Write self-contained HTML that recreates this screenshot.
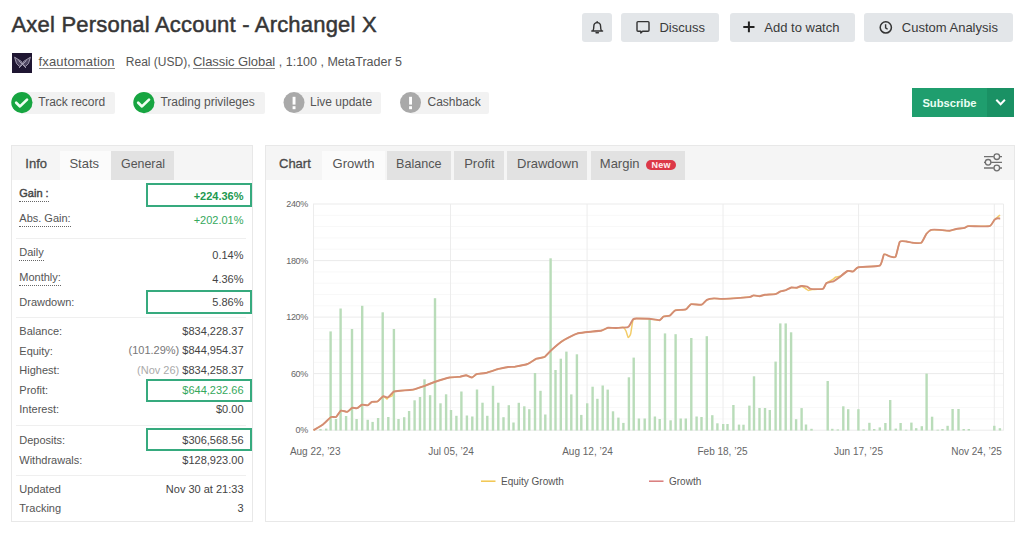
<!DOCTYPE html>
<html><head><meta charset="utf-8">
<style>
*{box-sizing:border-box;margin:0;padding:0}
html,body{width:1024px;height:533px;overflow:hidden;background:#fff;font-family:"Liberation Sans",sans-serif;color:#333}
.a{position:absolute;white-space:nowrap}
</style></head><body>
<div class="a" style="left:11.5px;top:14.00px;font-size:22px;line-height:1;color:#363636;font-weight:normal;letter-spacing:0.2px;-webkit-text-stroke:0.5px #383838">Axel Personal Account - Archangel X</div>
<div class="a" style="left:12px;top:53px;width:20px;height:20px;background:#1f1632;"></div>
<div class="a" style="left:38.5px;top:55.00px;font-size:13px;line-height:1;color:#555;font-weight:normal;letter-spacing:0.15px">fxautomation</div>
<div class="a" style="left:38.5px;top:67.5px;width:76.3px;height:1.0px;background:#888;"></div>
<div class="a" style="left:125.8px;top:56.00px;font-size:12px;line-height:1;color:#555;font-weight:normal;">Real (USD),</div>
<div class="a" style="left:193px;top:55.00px;font-size:13px;line-height:1;color:#555;font-weight:normal;letter-spacing:-0.07px">Classic Global</div>
<div class="a" style="left:193px;top:67.5px;width:82.19999999999999px;height:1.0px;background:#888;"></div>
<div class="a" style="left:278.8px;top:56.00px;font-size:12.5px;line-height:1;color:#555;font-weight:normal;">, 1:100 , MetaTrader 5</div>
<div class="a" style="left:582px;top:13px;width:30px;height:29px;background:#e3e6e9;border-radius:3px"></div>
<div class="a" style="left:621px;top:13px;width:98px;height:29px;background:#e3e6e9;border-radius:3px"></div>
<div class="a" style="left:730px;top:13px;width:125px;height:29px;background:#e3e6e9;border-radius:3px"></div>
<div class="a" style="left:864px;top:13px;width:149px;height:29px;background:#e3e6e9;border-radius:3px"></div>
<div class="a" style="left:659.4px;top:21.00px;font-size:13px;line-height:1;color:#3a3a3a;font-weight:normal;">Discuss</div>
<div class="a" style="left:764.3px;top:21.00px;font-size:13px;line-height:1;color:#3a3a3a;font-weight:normal;">Add to watch</div>
<div class="a" style="left:901.8px;top:21.00px;font-size:13px;line-height:1;color:#3a3a3a;font-weight:normal;">Custom Analysis</div>
<div class="a" style="left:21px;top:92px;width:93.7px;height:22px;background:#f2f2f2;border-radius:2px"></div>
<div class="a" style="left:38.3px;top:96.00px;font-size:12px;line-height:1;color:#555;font-weight:normal;">Track record</div>
<div class="a" style="left:143px;top:92px;width:122px;height:22px;background:#f2f2f2;border-radius:2px"></div>
<div class="a" style="left:160.4px;top:96.00px;font-size:12px;line-height:1;color:#555;font-weight:normal;">Trading privileges</div>
<div class="a" style="left:293.6px;top:92px;width:87.89999999999998px;height:22px;background:#f2f2f2;border-radius:2px"></div>
<div class="a" style="left:310px;top:96.00px;font-size:12px;line-height:1;color:#555;font-weight:normal;">Live update</div>
<div class="a" style="left:410px;top:92px;width:79px;height:22px;background:#f2f2f2;border-radius:2px"></div>
<div class="a" style="left:427.5px;top:96.00px;font-size:12px;line-height:1;color:#555;font-weight:normal;">Cashback</div>
<div class="a" style="left:912px;top:88px;width:102px;height:29px;background:#1f9e6e;"></div>
<div class="a" style="left:987px;top:88px;width:27px;height:29px;background:#1a9164;"></div>
<div class="a" style="left:922.4px;top:98.00px;font-size:11.2px;line-height:1;color:#eafff4;font-weight:bold;">Subscribe</div>
<div class="a" style="left:11px;top:145px;width:242px;height:377px;border:1px solid #e8e8e8;background:#fff"></div>
<div class="a" style="left:12px;top:146px;width:240px;height:34px;background:#f5f5f5;"></div>
<div class="a" style="left:60px;top:151px;width:51px;height:29px;background:#fbfbfb;"></div>
<div class="a" style="left:111px;top:151px;width:63px;height:29px;background:#e2e2e2;"></div>
<div class="a" style="left:25.3px;top:157.00px;font-size:13px;line-height:1;color:#4a4a4a;font-weight:normal;-webkit-text-stroke:0.3px #4a4a4a">Info</div>
<div class="a" style="left:69.4px;top:157.00px;font-size:13px;line-height:1;color:#555;font-weight:normal;">Stats</div>
<div class="a" style="left:121px;top:158.00px;font-size:12.4px;line-height:1;color:#555;font-weight:normal;">General</div>
<div class="a" style="left:265px;top:145px;width:750px;height:377px;border:1px solid #e8e8e8;background:#fff"></div>
<div class="a" style="left:266px;top:146px;width:748px;height:34px;background:#f5f5f5;"></div>
<div class="a" style="left:322px;top:151px;width:63px;height:29px;background:#fbfbfb;"></div>
<div class="a" style="left:386.6px;top:151px;width:64.39999999999998px;height:29px;background:#e2e2e2;"></div>
<div class="a" style="left:453.7px;top:151px;width:50.5px;height:29px;background:#e2e2e2;"></div>
<div class="a" style="left:507.4px;top:151px;width:80.10000000000002px;height:29px;background:#e2e2e2;"></div>
<div class="a" style="left:591px;top:151px;width:94px;height:29px;background:#e2e2e2;"></div>
<div class="a" style="left:279px;top:157.00px;font-size:13px;line-height:1;color:#4a4a4a;font-weight:normal;-webkit-text-stroke:0.3px #4a4a4a">Chart</div>
<div class="a" style="left:332.6px;top:157.00px;font-size:13px;line-height:1;color:#555;font-weight:normal;">Growth</div>
<div class="a" style="left:396px;top:158.00px;font-size:12.6px;line-height:1;color:#555;font-weight:normal;">Balance</div>
<div class="a" style="left:464.2px;top:157.00px;font-size:13px;line-height:1;color:#555;font-weight:normal;">Profit</div>
<div class="a" style="left:517px;top:157.00px;font-size:13px;line-height:1;color:#555;font-weight:normal;">Drawdown</div>
<div class="a" style="left:599.8px;top:157.00px;font-size:13px;line-height:1;color:#555;font-weight:normal;">Margin</div>
<div class="a" style="left:646.2px;top:159.8px;width:29.799999999999955px;height:10.199999999999989px;background:#dc3848;border-radius:5px"></div>
<div class="a" style="left:651.5px;top:161.00px;font-size:9px;line-height:1;color:#ffeef0;font-weight:bold;letter-spacing:0.2px">New</div>
<div class="a" style="left:19.3px;top:188.00px;font-size:11px;line-height:1;color:#444;font-weight:normal;-webkit-text-stroke:0.4px #444;border-bottom:1px dotted #666;padding-bottom:2px">Gain :</div>
<div class="a" style="right:780.5px;top:191.00px;font-size:11px;line-height:1;color:#23994f;font-weight:bold;text-align:right;">+224.36%</div>
<div class="a" style="left:19.3px;top:213.00px;font-size:11px;line-height:1;color:#555;font-weight:normal;border-bottom:1px dotted #666;padding-bottom:2px">Abs. Gain:</div>
<div class="a" style="right:780.5px;top:215.00px;font-size:11px;line-height:1;color:#35a85c;font-weight:normal;text-align:right;">+202.01%</div>
<div class="a" style="left:19.3px;top:247.00px;font-size:11px;line-height:1;color:#555;font-weight:normal;border-bottom:1px dotted #666;padding-bottom:2px">Daily</div>
<div class="a" style="right:780.5px;top:250.00px;font-size:11px;line-height:1;color:#444;font-weight:normal;text-align:right;">0.14%</div>
<div class="a" style="left:19.3px;top:272.00px;font-size:11px;line-height:1;color:#555;font-weight:normal;border-bottom:1px dotted #666;padding-bottom:2px">Monthly:</div>
<div class="a" style="right:780.5px;top:274.00px;font-size:11px;line-height:1;color:#444;font-weight:normal;text-align:right;">4.36%</div>
<div class="a" style="left:19.3px;top:297.00px;font-size:11px;line-height:1;color:#555;font-weight:normal;">Drawdown:</div>
<div class="a" style="right:780.5px;top:297.00px;font-size:11px;line-height:1;color:#444;font-weight:normal;text-align:right;">5.86%</div>
<div class="a" style="left:19.3px;top:326.00px;font-size:11px;line-height:1;color:#555;font-weight:normal;">Balance:</div>
<div class="a" style="right:780.5px;top:326.00px;font-size:11px;line-height:1;color:#444;font-weight:normal;text-align:right;">$834,228.37</div>
<div class="a" style="left:19.3px;top:346.00px;font-size:11px;line-height:1;color:#555;font-weight:normal;">Equity:</div>
<div class="a" style="right:780.5px;top:345.00px;font-size:11px;line-height:1;color:#444;font-weight:normal;text-align:right;"><span style="color:#777">(101.29%)</span> $844,954.37</div>
<div class="a" style="left:19.3px;top:365.00px;font-size:11px;line-height:1;color:#555;font-weight:normal;">Highest:</div>
<div class="a" style="right:780.5px;top:365.00px;font-size:11px;line-height:1;color:#444;font-weight:normal;text-align:right;"><span style="color:#aaa">(Nov 26)</span> $834,258.37</div>
<div class="a" style="left:19.3px;top:385.00px;font-size:11px;line-height:1;color:#555;font-weight:normal;">Profit:</div>
<div class="a" style="right:780.5px;top:385.00px;font-size:11px;line-height:1;color:#35a85c;font-weight:normal;text-align:right;">$644,232.66</div>
<div class="a" style="left:19.3px;top:404.00px;font-size:11px;line-height:1;color:#555;font-weight:normal;">Interest:</div>
<div class="a" style="right:780.5px;top:404.00px;font-size:11px;line-height:1;color:#444;font-weight:normal;text-align:right;">$0.00</div>
<div class="a" style="left:19.3px;top:435.00px;font-size:11px;line-height:1;color:#555;font-weight:normal;">Deposits:</div>
<div class="a" style="right:780.5px;top:435.00px;font-size:11px;line-height:1;color:#444;font-weight:normal;text-align:right;">$306,568.56</div>
<div class="a" style="left:19.3px;top:455.00px;font-size:11px;line-height:1;color:#555;font-weight:normal;">Withdrawals:</div>
<div class="a" style="right:780.5px;top:455.00px;font-size:11px;line-height:1;color:#444;font-weight:normal;text-align:right;">$128,923.00</div>
<div class="a" style="left:19.3px;top:484.00px;font-size:11px;line-height:1;color:#555;font-weight:normal;">Updated</div>
<div class="a" style="right:780.5px;top:484.00px;font-size:11px;line-height:1;color:#444;font-weight:normal;text-align:right;">Nov 30 at 21:33</div>
<div class="a" style="left:19.3px;top:503.00px;font-size:11px;line-height:1;color:#555;font-weight:normal;">Tracking</div>
<div class="a" style="right:780.5px;top:503.00px;font-size:11px;line-height:1;color:#444;font-weight:normal;text-align:right;">3</div>
<div class="a" style="left:16px;top:238px;width:230px;height:1px;background:#efefef;"></div>
<div class="a" style="left:16px;top:317px;width:230px;height:1px;background:#efefef;"></div>
<div class="a" style="left:16px;top:425px;width:230px;height:1px;background:#efefef;"></div>
<div class="a" style="left:16px;top:475px;width:230px;height:1px;background:#efefef;"></div>
<div class="a" style="left:146px;top:183px;width:106px;height:24px;border:2px solid #36aa7e"></div>
<div class="a" style="left:146px;top:290px;width:106px;height:24px;border:2px solid #36aa7e"></div>
<div class="a" style="left:146px;top:379px;width:106px;height:23px;border:2px solid #36aa7e"></div>
<div class="a" style="left:146px;top:428px;width:106px;height:23px;border:2px solid #36aa7e"></div>
<svg class="a" style="left:0;top:0" width="1024" height="533" viewBox="0 0 1024 533">
<line x1="313" x2="1003.5" y1="418.9" y2="418.9" stroke="#f8f8f8" stroke-width="1"/>
<line x1="313" x2="1003.5" y1="407.6" y2="407.6" stroke="#f8f8f8" stroke-width="1"/>
<line x1="313" x2="1003.5" y1="396.3" y2="396.3" stroke="#f8f8f8" stroke-width="1"/>
<line x1="313" x2="1003.5" y1="385.0" y2="385.0" stroke="#f8f8f8" stroke-width="1"/>
<line x1="313" x2="1003.5" y1="362.3" y2="362.3" stroke="#f8f8f8" stroke-width="1"/>
<line x1="313" x2="1003.5" y1="351.0" y2="351.0" stroke="#f8f8f8" stroke-width="1"/>
<line x1="313" x2="1003.5" y1="339.7" y2="339.7" stroke="#f8f8f8" stroke-width="1"/>
<line x1="313" x2="1003.5" y1="328.4" y2="328.4" stroke="#f8f8f8" stroke-width="1"/>
<line x1="313" x2="1003.5" y1="305.8" y2="305.8" stroke="#f8f8f8" stroke-width="1"/>
<line x1="313" x2="1003.5" y1="294.5" y2="294.5" stroke="#f8f8f8" stroke-width="1"/>
<line x1="313" x2="1003.5" y1="283.2" y2="283.2" stroke="#f8f8f8" stroke-width="1"/>
<line x1="313" x2="1003.5" y1="271.9" y2="271.9" stroke="#f8f8f8" stroke-width="1"/>
<line x1="313" x2="1003.5" y1="249.2" y2="249.2" stroke="#f8f8f8" stroke-width="1"/>
<line x1="313" x2="1003.5" y1="237.9" y2="237.9" stroke="#f8f8f8" stroke-width="1"/>
<line x1="313" x2="1003.5" y1="226.6" y2="226.6" stroke="#f8f8f8" stroke-width="1"/>
<line x1="313" x2="1003.5" y1="215.3" y2="215.3" stroke="#f8f8f8" stroke-width="1"/>
<line x1="313" x2="1003.5" y1="430.2" y2="430.2" stroke="#ebebeb" stroke-width="1"/>
<line x1="313" x2="1003.5" y1="373.6" y2="373.6" stroke="#ebebeb" stroke-width="1"/>
<line x1="313" x2="1003.5" y1="317.1" y2="317.1" stroke="#ebebeb" stroke-width="1"/>
<line x1="313" x2="1003.5" y1="260.6" y2="260.6" stroke="#ebebeb" stroke-width="1"/>
<line x1="313" x2="1003.5" y1="204.0" y2="204.0" stroke="#ebebeb" stroke-width="1"/>
<line x1="313.5" x2="313.5" y1="204" y2="430.5" stroke="#ececec" stroke-width="1"/>
<line x1="450.5" x2="450.5" y1="204" y2="430.5" stroke="#ececec" stroke-width="1"/>
<line x1="587.1" x2="587.1" y1="204" y2="430.5" stroke="#ececec" stroke-width="1"/>
<line x1="723" x2="723" y1="204" y2="430.5" stroke="#ececec" stroke-width="1"/>
<line x1="858.6" x2="858.6" y1="204" y2="430.5" stroke="#ececec" stroke-width="1"/>
<line x1="994.3" x2="994.3" y1="204" y2="430.5" stroke="#ececec" stroke-width="1"/>
<line x1="1003.5" x2="1003.5" y1="204" y2="430.5" stroke="#ececec" stroke-width="1"/>
<rect x="319.3" y="429.0" width="2.4" height="1.5" fill="#b9dcb9"/>
<rect x="325.0" y="428.6" width="2.4" height="1.9" fill="#b9dcb9"/>
<rect x="329.4" y="331.4" width="2.4" height="99.1" fill="#b9dcb9"/>
<rect x="334.8" y="419.0" width="2.4" height="11.5" fill="#b9dcb9"/>
<rect x="339.4" y="308.5" width="2.4" height="122.0" fill="#b9dcb9"/>
<rect x="344.9" y="416.0" width="2.4" height="14.5" fill="#b9dcb9"/>
<rect x="350.8" y="329.0" width="2.4" height="101.5" fill="#b9dcb9"/>
<rect x="355.4" y="419.0" width="2.4" height="11.5" fill="#b9dcb9"/>
<rect x="361.0" y="305.8" width="2.4" height="124.7" fill="#b9dcb9"/>
<rect x="366.5" y="419.8" width="2.4" height="10.7" fill="#b9dcb9"/>
<rect x="371.4" y="421.9" width="2.4" height="8.6" fill="#b9dcb9"/>
<rect x="376.9" y="418.0" width="2.4" height="12.5" fill="#b9dcb9"/>
<rect x="381.5" y="312.3" width="2.4" height="118.2" fill="#b9dcb9"/>
<rect x="387.1" y="417.0" width="2.4" height="13.5" fill="#b9dcb9"/>
<rect x="392.7" y="329.0" width="2.4" height="101.5" fill="#b9dcb9"/>
<rect x="397.3" y="419.0" width="2.4" height="11.5" fill="#b9dcb9"/>
<rect x="403.0" y="417.2" width="2.4" height="13.3" fill="#b9dcb9"/>
<rect x="407.9" y="411.0" width="2.4" height="19.5" fill="#b9dcb9"/>
<rect x="413.4" y="400.3" width="2.4" height="30.2" fill="#b9dcb9"/>
<rect x="418.8" y="397.0" width="2.4" height="33.5" fill="#b9dcb9"/>
<rect x="423.3" y="379.3" width="2.4" height="51.2" fill="#b9dcb9"/>
<rect x="428.9" y="395.2" width="2.4" height="35.3" fill="#b9dcb9"/>
<rect x="433.8" y="298.2" width="2.4" height="132.3" fill="#b9dcb9"/>
<rect x="439.3" y="403.3" width="2.4" height="27.2" fill="#b9dcb9"/>
<rect x="444.9" y="394.3" width="2.4" height="36.2" fill="#b9dcb9"/>
<rect x="449.8" y="410.0" width="2.4" height="20.5" fill="#b9dcb9"/>
<rect x="455.2" y="415.8" width="2.4" height="14.8" fill="#b9dcb9"/>
<rect x="460.2" y="391.5" width="2.4" height="39.0" fill="#b9dcb9"/>
<rect x="465.7" y="415.5" width="2.4" height="15.0" fill="#b9dcb9"/>
<rect x="471.1" y="416.5" width="2.4" height="14.0" fill="#b9dcb9"/>
<rect x="475.8" y="389.5" width="2.4" height="41.0" fill="#b9dcb9"/>
<rect x="481.3" y="402.7" width="2.4" height="27.8" fill="#b9dcb9"/>
<rect x="486.1" y="415.8" width="2.4" height="14.8" fill="#b9dcb9"/>
<rect x="491.8" y="385.8" width="2.4" height="44.8" fill="#b9dcb9"/>
<rect x="497.1" y="402.7" width="2.4" height="27.8" fill="#b9dcb9"/>
<rect x="502.3" y="417.2" width="2.4" height="13.2" fill="#b9dcb9"/>
<rect x="507.6" y="405.2" width="2.4" height="25.2" fill="#b9dcb9"/>
<rect x="512.3" y="422.5" width="2.4" height="8.0" fill="#b9dcb9"/>
<rect x="517.6" y="402.8" width="2.4" height="27.7" fill="#b9dcb9"/>
<rect x="523.1" y="406.3" width="2.4" height="24.2" fill="#b9dcb9"/>
<rect x="528.1" y="409.2" width="2.4" height="21.3" fill="#b9dcb9"/>
<rect x="533.8" y="373.0" width="2.4" height="57.5" fill="#b9dcb9"/>
<rect x="539.3" y="390.8" width="2.4" height="39.7" fill="#b9dcb9"/>
<rect x="544.1" y="414.5" width="2.4" height="16.0" fill="#b9dcb9"/>
<rect x="549.4" y="258.3" width="2.4" height="172.2" fill="#b9dcb9"/>
<rect x="554.3" y="370.0" width="2.4" height="60.5" fill="#b9dcb9"/>
<rect x="559.6" y="358.7" width="2.4" height="71.8" fill="#b9dcb9"/>
<rect x="565.2" y="351.6" width="2.4" height="78.9" fill="#b9dcb9"/>
<rect x="570.1" y="394.4" width="2.4" height="36.1" fill="#b9dcb9"/>
<rect x="575.7" y="354.3" width="2.4" height="76.2" fill="#b9dcb9"/>
<rect x="580.1" y="414.9" width="2.4" height="15.6" fill="#b9dcb9"/>
<rect x="586.0" y="403.3" width="2.4" height="27.2" fill="#b9dcb9"/>
<rect x="591.4" y="386.7" width="2.4" height="43.8" fill="#b9dcb9"/>
<rect x="596.2" y="398.8" width="2.4" height="31.7" fill="#b9dcb9"/>
<rect x="601.5" y="385.5" width="2.4" height="45.0" fill="#b9dcb9"/>
<rect x="606.5" y="389.6" width="2.4" height="40.9" fill="#b9dcb9"/>
<rect x="611.8" y="411.3" width="2.4" height="19.2" fill="#b9dcb9"/>
<rect x="617.2" y="417.6" width="2.4" height="12.9" fill="#b9dcb9"/>
<rect x="622.2" y="422.9" width="2.4" height="7.6" fill="#b9dcb9"/>
<rect x="627.7" y="377.3" width="2.4" height="53.2" fill="#b9dcb9"/>
<rect x="632.5" y="357.6" width="2.4" height="72.9" fill="#b9dcb9"/>
<rect x="637.7" y="418.5" width="2.4" height="12.0" fill="#b9dcb9"/>
<rect x="643.5" y="418.5" width="2.4" height="12.0" fill="#b9dcb9"/>
<rect x="648.4" y="319.0" width="2.4" height="111.5" fill="#b9dcb9"/>
<rect x="653.7" y="416.5" width="2.4" height="14.0" fill="#b9dcb9"/>
<rect x="658.5" y="419.0" width="2.4" height="11.5" fill="#b9dcb9"/>
<rect x="663.8" y="333.4" width="2.4" height="97.1" fill="#b9dcb9"/>
<rect x="669.4" y="420.3" width="2.4" height="10.2" fill="#b9dcb9"/>
<rect x="674.4" y="334.2" width="2.4" height="96.3" fill="#b9dcb9"/>
<rect x="679.5" y="418.5" width="2.4" height="12.0" fill="#b9dcb9"/>
<rect x="684.6" y="418.5" width="2.4" height="12.0" fill="#b9dcb9"/>
<rect x="690.1" y="338.0" width="2.4" height="92.5" fill="#b9dcb9"/>
<rect x="695.4" y="416.5" width="2.4" height="14.0" fill="#b9dcb9"/>
<rect x="700.3" y="417.0" width="2.4" height="13.5" fill="#b9dcb9"/>
<rect x="705.6" y="336.2" width="2.4" height="94.3" fill="#b9dcb9"/>
<rect x="711.1" y="415.2" width="2.4" height="15.3" fill="#b9dcb9"/>
<rect x="716.2" y="423.3" width="2.4" height="7.2" fill="#b9dcb9"/>
<rect x="722.0" y="424.0" width="2.4" height="6.5" fill="#b9dcb9"/>
<rect x="726.3" y="424.0" width="2.4" height="6.5" fill="#b9dcb9"/>
<rect x="732.2" y="405.0" width="2.4" height="25.5" fill="#b9dcb9"/>
<rect x="737.8" y="424.6" width="2.4" height="5.9" fill="#b9dcb9"/>
<rect x="742.3" y="424.7" width="2.4" height="5.8" fill="#b9dcb9"/>
<rect x="748.2" y="405.6" width="2.4" height="24.9" fill="#b9dcb9"/>
<rect x="752.8" y="376.3" width="2.4" height="54.2" fill="#b9dcb9"/>
<rect x="758.3" y="408.0" width="2.4" height="22.5" fill="#b9dcb9"/>
<rect x="763.8" y="408.0" width="2.4" height="22.5" fill="#b9dcb9"/>
<rect x="768.6" y="410.0" width="2.4" height="20.5" fill="#b9dcb9"/>
<rect x="774.4" y="361.6" width="2.4" height="68.9" fill="#b9dcb9"/>
<rect x="779.1" y="323.4" width="2.4" height="107.1" fill="#b9dcb9"/>
<rect x="784.5" y="323.4" width="2.4" height="107.1" fill="#b9dcb9"/>
<rect x="789.9" y="332.3" width="2.4" height="98.2" fill="#b9dcb9"/>
<rect x="794.9" y="419.2" width="2.4" height="11.3" fill="#b9dcb9"/>
<rect x="800.4" y="408.1" width="2.4" height="22.4" fill="#b9dcb9"/>
<rect x="804.8" y="424.5" width="2.4" height="6.0" fill="#b9dcb9"/>
<rect x="810.3" y="428.8" width="2.4" height="1.8" fill="#b9dcb9"/>
<rect x="826.5" y="381.0" width="2.4" height="49.5" fill="#b9dcb9"/>
<rect x="831.1" y="428.8" width="2.4" height="1.8" fill="#b9dcb9"/>
<rect x="836.6" y="429.4" width="2.4" height="1.1" fill="#b9dcb9"/>
<rect x="842.1" y="406.3" width="2.4" height="24.2" fill="#b9dcb9"/>
<rect x="847.0" y="409.2" width="2.4" height="21.3" fill="#b9dcb9"/>
<rect x="857.2" y="409.2" width="2.4" height="21.3" fill="#b9dcb9"/>
<rect x="862.4" y="429.4" width="2.4" height="1.1" fill="#b9dcb9"/>
<rect x="868.2" y="422.8" width="2.4" height="7.7" fill="#b9dcb9"/>
<rect x="873.0" y="429.0" width="2.4" height="1.5" fill="#b9dcb9"/>
<rect x="878.6" y="427.4" width="2.4" height="3.1" fill="#b9dcb9"/>
<rect x="884.2" y="423.0" width="2.4" height="7.5" fill="#b9dcb9"/>
<rect x="889.0" y="400.0" width="2.4" height="30.5" fill="#b9dcb9"/>
<rect x="894.6" y="428.6" width="2.4" height="1.9" fill="#b9dcb9"/>
<rect x="899.4" y="423.0" width="2.4" height="7.5" fill="#b9dcb9"/>
<rect x="904.9" y="429.7" width="2.4" height="0.8" fill="#b9dcb9"/>
<rect x="910.2" y="422.6" width="2.4" height="7.9" fill="#b9dcb9"/>
<rect x="915.0" y="428.2" width="2.4" height="2.3" fill="#b9dcb9"/>
<rect x="920.6" y="426.2" width="2.4" height="4.3" fill="#b9dcb9"/>
<rect x="925.4" y="373.6" width="2.4" height="56.9" fill="#b9dcb9"/>
<rect x="930.9" y="416.7" width="2.4" height="13.8" fill="#b9dcb9"/>
<rect x="936.5" y="429.7" width="2.4" height="0.8" fill="#b9dcb9"/>
<rect x="941.3" y="429.0" width="2.4" height="1.5" fill="#b9dcb9"/>
<rect x="946.4" y="425.8" width="2.4" height="4.7" fill="#b9dcb9"/>
<rect x="951.4" y="409.0" width="2.4" height="21.5" fill="#b9dcb9"/>
<rect x="957.3" y="409.0" width="2.4" height="21.5" fill="#b9dcb9"/>
<rect x="962.5" y="429.0" width="2.4" height="1.5" fill="#b9dcb9"/>
<rect x="967.6" y="429.0" width="2.4" height="1.5" fill="#b9dcb9"/>
<rect x="993.1" y="425.8" width="2.4" height="4.7" fill="#b9dcb9"/>
<rect x="998.7" y="428.2" width="2.4" height="2.3" fill="#b9dcb9"/>
<path d="M313.5,430.2 C314.3,429.7 321.2,425.8 322.7,424.7 C324.2,423.6 330.0,417.6 331.1,417.0 C332.2,416.4 335.2,417.5 336.0,417.0 C336.8,416.5 340.1,411.0 341.0,410.6 C341.9,410.2 346.4,412.0 347.3,411.8 C348.2,411.6 351.4,408.1 352.2,407.8 C353.0,407.5 356.3,408.5 357.1,408.2 C357.9,407.9 361.1,404.9 362.0,404.7 C362.9,404.5 366.9,405.5 367.7,405.3 C368.5,405.1 371.1,402.2 371.9,401.9 C372.7,401.6 376.6,402.0 377.5,401.5 C378.4,401.0 382.3,396.5 383.1,396.3 C383.9,396.1 386.6,398.9 387.0,399.0 C387.4,399.1 387.6,397.6 388.0,397.3 C388.4,397.1 391.5,396.5 392.0,396.0 C392.5,395.5 393.0,392.0 393.7,391.6 C394.4,391.2 398.6,390.8 400.0,390.7 C401.4,390.6 408.6,390.1 409.9,390.0 C411.1,389.9 413.8,389.6 415.0,389.2 C416.2,388.8 423.1,386.4 424.8,385.8 C426.4,385.1 432.4,382.7 434.5,382.0 C436.6,381.3 447.4,377.9 449.5,377.5 C451.6,377.1 458.6,376.9 460.0,376.8 C461.4,376.6 465.0,375.2 466.0,375.2 C467.0,375.3 471.1,377.6 472.0,377.5 C472.9,377.4 475.4,374.6 476.5,374.2 C477.6,373.8 483.8,373.4 485.5,373.0 C487.2,372.6 495.6,369.8 497.5,369.2 C499.4,368.8 506.5,367.2 508.0,367.0 C509.5,366.8 513.4,366.9 515.0,366.7 C516.6,366.4 525.7,364.7 527.5,364.0 C529.3,363.3 535.0,359.3 536.4,358.7 C537.8,358.1 543.2,357.7 544.4,357.0 C545.6,356.3 549.6,351.7 550.7,350.7 C551.8,349.7 556.7,345.4 557.8,344.5 C558.9,343.6 562.4,340.9 564.0,340.0 C565.6,339.1 575.1,334.3 577.0,333.6 C578.9,332.9 585.2,332.3 587.3,332.0 C589.4,331.7 600.0,330.9 601.7,330.5 C603.4,330.1 606.7,328.0 607.9,327.8 C609.1,327.6 614.9,328.0 616.2,328.0 C617.5,328.0 622.2,327.1 623.0,327.3 C623.8,327.6 625.6,330.1 626.0,331.0 C626.4,331.9 627.8,337.2 628.2,337.5 C628.6,337.8 630.2,335.5 630.6,334.0 C631.0,332.5 632.5,321.3 633.0,320.0 C633.5,318.7 635.0,318.6 636.4,318.5 C637.8,318.4 647.3,318.6 649.2,318.7 C651.1,318.8 658.3,320.4 659.5,320.2 C660.7,320.0 662.7,316.9 663.6,316.5 C664.5,316.1 668.8,316.1 669.8,315.6 C670.8,315.1 674.0,310.8 675.3,310.3 C676.6,309.8 684.5,309.9 685.8,309.4 C687.1,308.9 689.8,304.6 691.1,304.2 C692.4,303.8 700.3,305.1 701.6,304.7 C702.9,304.3 705.9,300.3 706.9,299.8 C707.9,299.3 712.7,298.5 714.0,298.4 C715.3,298.3 719.8,299.0 722.7,298.9 C725.6,298.8 746.5,297.4 749.1,297.1 C751.7,296.8 752.6,295.5 753.5,295.4 C754.4,295.3 758.6,296.2 759.6,296.2 C760.6,296.1 763.6,295.0 764.9,294.8 C766.2,294.6 774.2,294.4 775.5,294.1 C776.8,293.8 779.8,291.6 780.7,291.3 C781.6,291.0 785.1,290.4 786.0,290.1 C786.9,289.8 790.4,287.7 791.3,287.5 C792.2,287.3 795.7,287.9 796.6,287.8 C797.5,287.7 801.3,286.4 802.0,286.5 C802.7,286.6 805.0,288.2 805.5,288.5 C806.0,288.8 808.0,290.4 808.5,290.5 C809.0,290.6 810.8,289.6 812.0,289.5 C813.2,289.4 821.7,289.4 822.9,288.9 C824.1,288.4 825.6,283.8 826.4,283.1 C827.2,282.4 831.2,280.5 832.0,280.0 C832.8,279.5 835.2,277.3 836.0,277.0 C836.8,276.7 840.0,276.5 841.0,276.0 C842.0,275.5 846.5,271.4 847.5,271.0 C848.5,270.6 852.4,271.7 853.3,271.4 C854.2,271.1 856.1,267.7 858.3,267.2 C860.5,266.7 877.7,266.7 879.8,265.6 C881.9,264.5 883.2,255.2 884.0,254.4 C884.8,253.6 888.8,256.2 889.8,256.4 C890.8,256.6 894.8,258.0 895.6,256.8 C896.4,255.6 898.9,243.1 899.8,241.8 C900.7,240.5 905.3,241.4 906.4,241.5 C907.5,241.6 911.8,242.7 913.0,242.8 C914.2,242.9 920.2,243.5 921.3,242.8 C922.4,242.1 925.5,235.1 926.3,234.0 C927.1,232.9 930.2,230.2 931.3,229.9 C932.4,229.6 938.1,229.8 939.6,229.9 C941.1,230.0 948.2,230.8 949.6,230.7 C951.0,230.6 955.0,229.2 956.2,229.0 C957.4,228.8 963.5,228.1 964.5,227.9 C965.5,227.7 966.6,226.2 968.7,226.1 C970.8,226.0 987.3,226.7 989.4,226.2 C991.5,225.7 993.8,220.6 994.4,219.9 C995.0,219.2 996.5,217.9 997.0,217.5 C997.5,217.1 999.8,215.2 1000.0,215.0" fill="none" stroke="#f3cd6a" stroke-width="1.5" stroke-linejoin="round"/>
<path d="M313.5,430.2 C314.3,429.7 321.2,425.8 322.7,424.7 C324.2,423.6 330.0,417.6 331.1,417.0 C332.2,416.4 335.2,417.5 336.0,417.0 C336.8,416.5 340.1,411.0 341.0,410.6 C341.9,410.2 346.4,412.0 347.3,411.8 C348.2,411.6 351.4,408.1 352.2,407.8 C353.0,407.5 356.3,408.5 357.1,408.2 C357.9,407.9 361.1,404.9 362.0,404.7 C362.9,404.5 366.9,405.5 367.7,405.3 C368.5,405.1 371.1,402.2 371.9,401.9 C372.7,401.6 376.6,402.0 377.5,401.5 C378.4,401.0 382.2,396.7 383.1,396.3 C384.0,395.9 387.1,397.7 388.0,397.3 C388.9,396.9 392.7,392.2 393.7,391.6 C394.7,391.1 398.6,390.8 400.0,390.7 C401.4,390.6 408.6,390.1 409.9,390.0 C411.1,389.9 413.8,389.6 415.0,389.2 C416.2,388.8 423.1,386.4 424.8,385.8 C426.4,385.1 432.4,382.7 434.5,382.0 C436.6,381.3 447.4,377.9 449.5,377.5 C451.6,377.1 458.6,376.9 460.0,376.8 C461.4,376.6 465.0,375.2 466.0,375.2 C467.0,375.3 471.1,377.6 472.0,377.5 C472.9,377.4 475.4,374.6 476.5,374.2 C477.6,373.8 483.8,373.4 485.5,373.0 C487.2,372.6 495.6,369.8 497.5,369.2 C499.4,368.8 506.5,367.2 508.0,367.0 C509.5,366.8 513.4,366.9 515.0,366.7 C516.6,366.4 525.7,364.7 527.5,364.0 C529.3,363.3 535.0,359.3 536.4,358.7 C537.8,358.1 543.2,357.7 544.4,357.0 C545.6,356.3 549.6,351.7 550.7,350.7 C551.8,349.7 556.7,345.4 557.8,344.5 C558.9,343.6 562.4,340.9 564.0,340.0 C565.6,339.1 575.1,334.3 577.0,333.6 C578.9,332.9 585.2,332.3 587.3,332.0 C589.4,331.7 600.0,330.9 601.7,330.5 C603.4,330.1 606.7,328.0 607.9,327.8 C609.1,327.6 614.5,328.1 616.2,328.0 C617.9,327.9 626.7,327.6 627.9,327.2 C629.1,326.8 630.1,324.5 630.5,323.8 C630.9,323.1 632.6,319.6 633.1,319.2 C633.6,318.8 635.1,318.5 636.4,318.5 C637.7,318.5 647.3,318.6 649.2,318.7 C651.1,318.8 658.3,320.4 659.5,320.2 C660.7,320.0 662.7,316.9 663.6,316.5 C664.5,316.1 668.8,316.1 669.8,315.6 C670.8,315.1 674.0,310.8 675.3,310.3 C676.6,309.8 684.5,309.9 685.8,309.4 C687.1,308.9 689.8,304.6 691.1,304.2 C692.4,303.8 700.3,305.1 701.6,304.7 C702.9,304.3 705.9,300.3 706.9,299.8 C707.9,299.3 712.7,298.5 714.0,298.4 C715.3,298.3 719.8,299.0 722.7,298.9 C725.6,298.8 746.5,297.4 749.1,297.1 C751.7,296.8 752.6,295.5 753.5,295.4 C754.4,295.3 758.6,296.2 759.6,296.2 C760.6,296.1 763.6,295.0 764.9,294.8 C766.2,294.6 774.2,294.4 775.5,294.1 C776.8,293.8 779.8,291.6 780.7,291.3 C781.6,291.0 785.1,290.4 786.0,290.1 C786.9,289.8 790.4,287.7 791.3,287.5 C792.2,287.3 795.8,287.9 796.6,287.8 C797.4,287.7 800.1,286.1 801.0,286.0 C801.9,285.9 806.3,286.4 807.1,286.6 C807.9,286.8 809.3,288.7 810.6,288.9 C811.9,289.1 821.6,289.4 822.9,288.9 C824.2,288.4 825.5,283.7 826.4,283.1 C827.3,282.5 832.5,281.7 833.5,281.3 C834.5,280.9 837.5,278.7 838.7,277.8 C839.9,276.9 846.3,271.5 847.5,271.0 C848.7,270.5 852.4,271.7 853.3,271.4 C854.2,271.1 856.1,267.7 858.3,267.2 C860.5,266.7 877.7,266.7 879.8,265.6 C881.9,264.5 883.2,255.2 884.0,254.4 C884.8,253.6 888.8,256.2 889.8,256.4 C890.8,256.6 894.8,258.0 895.6,256.8 C896.4,255.6 898.9,243.1 899.8,241.8 C900.7,240.5 905.3,241.4 906.4,241.5 C907.5,241.6 911.8,242.7 913.0,242.8 C914.2,242.9 920.2,243.5 921.3,242.8 C922.4,242.1 925.5,235.1 926.3,234.0 C927.1,232.9 930.2,230.2 931.3,229.9 C932.4,229.6 938.1,229.8 939.6,229.9 C941.1,230.0 948.2,230.8 949.6,230.7 C951.0,230.6 955.0,229.2 956.2,229.0 C957.4,228.8 963.5,228.1 964.5,227.9 C965.5,227.7 966.6,226.2 968.7,226.1 C970.8,226.0 987.3,226.7 989.4,226.2 C991.5,225.7 993.7,220.6 994.4,219.9 C995.1,219.2 997.2,218.4 997.7,218.3 C998.2,218.2 1000.0,218.6 1000.2,218.6" fill="none" stroke="#d38c74" stroke-width="1.9" stroke-linejoin="round"/>
<text x="308" y="433.4" text-anchor="end" font-size="9" fill="#666" letter-spacing="-0.3">0%</text>
<text x="308" y="376.8" text-anchor="end" font-size="9" fill="#666" letter-spacing="-0.3">60%</text>
<text x="308" y="320.3" text-anchor="end" font-size="9" fill="#666" letter-spacing="-0.3">120%</text>
<text x="308" y="263.8" text-anchor="end" font-size="9" fill="#666" letter-spacing="-0.3">180%</text>
<text x="308" y="207.2" text-anchor="end" font-size="9" fill="#666" letter-spacing="-0.3">240%</text>
<text x="315.2" y="454.8" text-anchor="middle" font-size="10" fill="#666">Aug 22, ’23</text>
<text x="451.1" y="454.8" text-anchor="middle" font-size="10" fill="#666">Jul 05, ’24</text>
<text x="587.5" y="454.8" text-anchor="middle" font-size="10" fill="#666">Aug 12, ’24</text>
<text x="722.5" y="454.8" text-anchor="middle" font-size="10" fill="#666">Feb 18, ’25</text>
<text x="858.5" y="454.8" text-anchor="middle" font-size="10" fill="#666">Jun 17, ’25</text>
<text x="976.5" y="454.8" text-anchor="middle" font-size="10" fill="#666">Nov 24, ’25</text>
<line x1="481" x2="495.5" y1="481.2" y2="481.2" stroke="#f2c64e" stroke-width="1.5"/>
<text x="501" y="484.5" font-size="10" fill="#555">Equity Growth</text>
<line x1="649" x2="663.5" y1="481.2" y2="481.2" stroke="#d97a7a" stroke-width="1.5"/>
<text x="669" y="484.5" font-size="10" fill="#555">Growth</text>
</svg>
<svg class="a" style="left:0;top:0" width="1024" height="533" viewBox="0 0 1024 533">
<g fill="none" stroke="#333" stroke-width="1.4" stroke-linejoin="round" stroke-linecap="round">
 <path d="M591.8,31 L602.6,31 M592.9,31 C593.6,30 593.8,28.5 593.8,26.5 C593.8,24 595.3,22.6 597.2,22.6 C599.1,22.6 600.6,24 600.6,26.5 C600.6,28.5 600.8,30 601.5,31"/>
 <path d="M596,32.8 L598.4,32.8"/>
 <path d="M597.2,21.6 L597.2,22.6"/>
 <path d="M638,21.6 L648,21.6 Q649,21.6 649,22.6 L649,30.2 Q649,31.2 648,31.2 L642.6,31.2 L640.8,33 L640.8,31.2 L638,31.2 Q637,31.2 637,30.2 L637,22.6 Q637,21.6 638,21.6 Z"/>
</g>
<g stroke="#222" stroke-width="2" stroke-linecap="butt"><path d="M743.3,27 L754.5,27 M748.9,21.6 L748.9,32.3"/></g>
<circle cx="885.8" cy="27.4" r="5.6" fill="none" stroke="#333" stroke-width="1.5"/>
<path d="M885.6,24.3 L885.6,27.8 L887.6,29.2" fill="none" stroke="#333" stroke-width="1.4"/>
<circle cx="21.9" cy="102.6" r="10.6" fill="#17a541"/>
<path d="M16.2,102.8 L20,106.4 L27,99.6" fill="none" stroke="#effff2" stroke-width="2.7" stroke-linecap="round" stroke-linejoin="round"/>
<circle cx="143.9" cy="102.6" r="10.6" fill="#17a541"/>
<path d="M138.2,102.8 L142,106.4 L149,99.6" fill="none" stroke="#effff2" stroke-width="2.7" stroke-linecap="round" stroke-linejoin="round"/>
<circle cx="294" cy="102.6" r="10.5" fill="#a9a9a9"/>
<rect x="292.6" y="96.8" width="2.9" height="7.8" fill="#fff"/><rect x="292.6" y="106.2" width="2.9" height="3" fill="#fff"/>
<circle cx="410.5" cy="102.6" r="10.5" fill="#a9a9a9"/>
<rect x="409.1" y="96.8" width="2.9" height="7.8" fill="#fff"/><rect x="409.1" y="106.2" width="2.9" height="3" fill="#fff"/>
<path d="M996.3,99.8 L1000.6,104.2 L1004.9,99.8" fill="none" stroke="#fff" stroke-width="2"/>
<g fill="none" stroke="#707070" stroke-width="1.3">
 <path d="M984,156.7 L993.8,156.7 M999.8,156.7 L1002,156.7 M984,162.3 L985.1,162.3 M991.1,162.3 L1002,162.3 M984,168 L993.8,168 M999.8,168 L1002,168"/>
 <circle cx="996.8" cy="156.7" r="2.8"/><circle cx="988.1" cy="162.3" r="2.8"/><circle cx="996.8" cy="168" r="2.8"/>
</g>
<g stroke="#aaa4b8" stroke-width="0.9" fill="#77708a" fill-opacity="0.55">
 <path d="M14.6,57.2 L21.5,61.5 L22.5,64 L19.5,66.5 L16.5,63.5 Z"/>
 <path d="M30.4,57.2 L23.5,61.5 L22.5,64 L25.5,66.5 L28.5,63.5 Z"/>
 <path d="M18.5,60.5 L26,68 M26.5,60.5 L19,68" fill="none"/>
</g>
</svg>
</body></html>
